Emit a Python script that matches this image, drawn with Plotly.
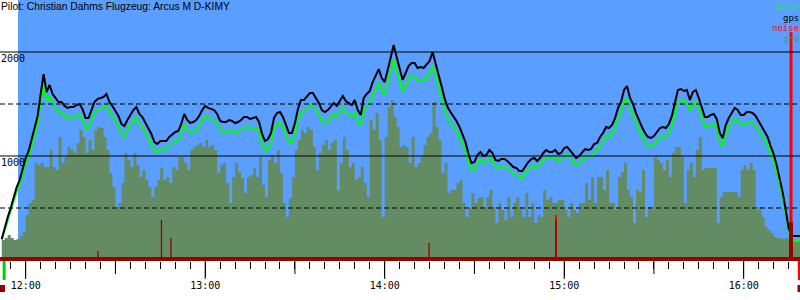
import pandas as pd
import plotly.graph_objects as go

DAY = "2024-06-01 "

# ---- data (one value per minute, starting 11:52) ----
series_start = "11:52"

gps = [202, 317, 413, 500, 606, 702, 769, 865, 981, 1048,
       1163, 1269, 1385, 1596, 1788, 1615, 1683, 1596, 1558, 1519,
       1519, 1481, 1462, 1471, 1471, 1490, 1500, 1452, 1365, 1365,
       1442, 1519, 1548, 1558, 1567, 1596, 1519, 1481, 1433, 1385,
       1308, 1288, 1346, 1394, 1442, 1471, 1404, 1375, 1317, 1269,
       1212, 1135, 1115, 1144, 1144, 1144, 1183, 1212, 1231, 1240,
       1308, 1404, 1346, 1317, 1327, 1346, 1385, 1442, 1481, 1462,
       1452, 1442, 1404, 1337, 1327, 1327, 1346, 1337, 1317, 1327,
       1346, 1375, 1375, 1356, 1365, 1375, 1327, 1212, 1144, 1163,
       1221, 1365, 1413, 1423, 1375, 1298, 1221, 1221, 1317, 1452,
       1538, 1538, 1577, 1606, 1606, 1558, 1510, 1442, 1423, 1442,
       1481, 1510, 1481, 1529, 1577, 1529, 1510, 1490, 1538, 1442,
       1394, 1558, 1596, 1625, 1711, 1779, 1836, 1750, 1711, 1827,
       1952, 2067, 1952, 1827, 1731, 1798, 1865, 1894, 1894, 1846,
       1856, 1846, 1875, 1913, 2000, 1894, 1798, 1673, 1558, 1471,
       1423, 1385, 1337, 1279, 1212, 1135, 1019, 933, 942, 1010,
       1038, 1000, 1010, 1058, 1029, 962, 952, 971, 971, 952,
       923, 894, 885, 856, 856, 904, 942, 971, 981, 952,
       981, 1029, 1058, 1038, 1038, 1058, 1019, 1029, 1077, 1087,
       1048, 1010, 981, 1000, 1029, 1067, 1058, 1067, 1115, 1125,
       1183, 1221, 1279, 1269, 1298, 1365, 1462, 1519, 1635, 1673,
       1558, 1500, 1413, 1337, 1279, 1221, 1183, 1173, 1192, 1231,
       1269, 1279, 1269, 1308, 1385, 1510, 1635, 1644, 1625, 1635,
       1538, 1615, 1635, 1558, 1471, 1375, 1375, 1394, 1404, 1356,
       1221, 1173, 1298, 1365, 1413, 1462, 1442, 1394, 1394, 1423,
       1423, 1413, 1385, 1337, 1279, 1231, 1183, 1096, 1019, 913,
       788, 654, 490, 308, 231, 231, 231, 231]

baro = [195, 290, 385, 470, 570, 665, 730, 820, 930, 990,
        1100, 1205, 1315, 1510, 1680, 1520, 1580, 1500, 1460, 1420,
        1415, 1385, 1360, 1370, 1375, 1390, 1395, 1355, 1270, 1265,
        1345, 1420, 1445, 1455, 1465, 1490, 1420, 1385, 1340, 1290,
        1215, 1195, 1250, 1300, 1345, 1370, 1310, 1280, 1225, 1180,
        1125, 1055, 1035, 1065, 1060, 1065, 1100, 1130, 1145, 1150,
        1215, 1305, 1255, 1225, 1235, 1250, 1290, 1345, 1380, 1365,
        1355, 1345, 1310, 1245, 1230, 1235, 1250, 1240, 1225, 1235,
        1250, 1275, 1280, 1260, 1270, 1275, 1230, 1120, 1050, 1070,
        1125, 1265, 1310, 1320, 1280, 1205, 1130, 1125, 1220, 1345,
        1425, 1430, 1460, 1490, 1485, 1445, 1400, 1335, 1320, 1335,
        1375, 1400, 1375, 1420, 1465, 1420, 1400, 1385, 1425, 1335,
        1290, 1440, 1480, 1510, 1590, 1655, 1710, 1630, 1590, 1700,
        1820, 1930, 1825, 1705, 1615, 1680, 1740, 1770, 1770, 1725,
        1735, 1725, 1755, 1790, 1875, 1775, 1680, 1560, 1450, 1365,
        1320, 1285, 1240, 1185, 1125, 1050, 945, 865, 870, 935,
        965, 930, 940, 985, 960, 895, 885, 905, 905, 885,
        860, 830, 820, 795, 790, 840, 875, 905, 915, 885,
        915, 960, 990, 970, 970, 990, 950, 960, 1005, 1015,
        980, 940, 915, 930, 960, 995, 985, 995, 1040, 1050,
        1105, 1140, 1195, 1185, 1215, 1275, 1365, 1415, 1525, 1560,
        1450, 1395, 1315, 1245, 1190, 1135, 1100, 1090, 1110, 1145,
        1180, 1190, 1180, 1215, 1290, 1410, 1525, 1535, 1515, 1525,
        1435, 1505, 1525, 1450, 1370, 1280, 1280, 1300, 1310, 1265,
        1135, 1090, 1210, 1275, 1320, 1365, 1345, 1300, 1300, 1325,
        1325, 1315, 1290, 1245, 1190, 1145, 1100, 1020, 950, 850,
        735, 605, 450, 275, 183, 183, 183, 183]

gnd = [192, 212, 240, 212, 192, 202, 231, 269, 433, 548,
       577, 933, 913, 933, 894, 894, 1058, 894, 865, 1183,
       933, 990, 1087, 1058, 1029, 1125, 1250, 1183, 1029, 1154,
       1058, 1250, 1279, 1269, 1183, 1058, 837, 702, 510, 548,
       740, 1029, 962, 894, 1029, 913, 798, 865, 769, 702,
       606, 702, 769, 885, 769, 798, 740, 894, 865, 990,
       990, 933, 865, 1058, 1087, 1106, 1125, 1087, 1154, 1087,
       1106, 1058, 837, 913, 933, 740, 548, 798, 933, 846,
       788, 644, 798, 817, 885, 798, 990, 721, 606, 962,
       1010, 933, 1058, 837, 548, 413, 596, 798, 1058, 1154,
       1250, 1221, 1279, 1250, 1087, 865, 1029, 1106, 1154, 1058,
       1125, 1154, 673, 933, 1183, 1058, 894, 933, 769, 798,
       894, 740, 606, 1346, 1250, 1413, 1154, 413, 1183, 1471,
       1538, 1375, 1279, 1087, 1106, 1087, 933, 1183, 894, 933,
       990, 1106, 1183, 1221, 1519, 1279, 1154, 837, 933, 644,
       673, 673, 740, 769, 548, 413, 500, 644, 548, 596,
       606, 510, 606, 673, 510, 356, 548, 481, 385, 606,
       413, 548, 606, 510, 413, 644, 413, 548, 356, 433,
       413, 673, 577, 606, 548, 548, 577, 577, 481, 413,
       548, 481, 452, 548, 548, 740, 577, 798, 548, 798,
       798, 673, 865, 548, 548, 481, 798, 846, 933, 673,
       606, 356, 673, 654, 865, 413, 510, 481, 990, 962,
       933, 865, 962, 798, 1029, 1087, 1087, 990, 548, 865,
       933, 798, 1058, 1183, 865, 885, 885, 885, 885, 356,
       606, 654, 654, 654, 654, 654, 606, 865, 913, 865,
       933, 865, 481, 510, 413, 317, 288, 260, 221, 212,
       212, 202, 212, 192, 183, 183, 183, 183]

# noise (bright red) and dark-red spikes
noise_times = ["14:57:15", "16:15:49"]
noise_vals = [433, 2190]
spike_times = ["12:24:10", "12:34:11", "12:45:23", "12:48:34", "14:14:49", "14:57:15", "16:15:49"]
spike_vals = [87, 29, 385, 212, 163, 385, 360]

hour_labels = ["12:00", "13:00", "14:00", "15:00", "16:00"]
half_hours = ["12:30", "13:30", "14:30", "15:30"]
grid_solid = [1000, 2000]
grid_dashed = [500, 1500]
y_labels = [2000, 1000]

axis_start, axis_end = "11:51:25", "16:18:49"
flight_start = "11:57:26"
takeoff, landing = "11:52:48", "16:18:30"

title = "Pilot: Christian Dahms Flugzeug: Arcus M D-KIMY"
legend = [("baro", "#00FF00"), ("gps", "#000000"), ("noise", "#FF0000"), ("gnd", "#648C64")]

# ---- styling ----
BLUE = "#5A9EFF"
GND = "#648C64"
DARKRED = "#990000"
MONO = "DejaVu Sans Mono"
PLOT_H = 261

times = pd.date_range(DAY + series_start, periods=len(gps), freq="min")

fig = go.Figure()
fig.add_trace(go.Scatter(x=times, y=gnd, mode="lines", line=dict(width=0, shape="hv"),
                         fill="tozeroy", fillcolor=GND, name="gnd", hoverinfo="skip"))
fig.add_trace(go.Scatter(x=times, y=baro, mode="lines", line=dict(color="#00FF00", width=2), name="baro"))
fig.add_trace(go.Scatter(x=times, y=gps, mode="lines", line=dict(color="black", width=2), name="gps"))

for t, v, w in zip(noise_times, noise_vals, [2, 3]):
    fig.add_trace(go.Scatter(x=[DAY + t, DAY + t], y=[0, v], mode="lines",
                             line=dict(color="#FF0000", width=w), name="noise"))
for i, (t, v) in enumerate(zip(spike_times, spike_vals)):
    w = 4 if i == len(spike_times) - 1 else 1.3
    fig.add_trace(go.Scatter(x=[DAY + t, DAY + t], y=[0, v], mode="lines",
                             line=dict(color=DARKRED, width=w), showlegend=False))

shapes = []
# blue flight background
shapes.append(dict(type="rect", xref="x", yref="paper", x0=DAY + flight_start, x1=DAY + axis_end,
                   y0=0, y1=1, fillcolor=BLUE, line=dict(width=0), layer="below"))
for g in grid_solid:
    shapes.append(dict(type="line", xref="paper", yref="y", x0=0, x1=1, y0=g, y1=g,
                       line=dict(color="black", width=1), layer="above"))
for g in grid_dashed:
    shapes.append(dict(type="line", xref="paper", yref="y", x0=0, x1=1, y0=g, y1=g,
                       line=dict(color="black", width=1, dash="5px,3px"), layer="above"))
# bottom dark-red band
shapes.append(dict(type="rect", xref="paper", yref="y", x0=0, x1=1, y0=-9.6, y1=28.8,
                   fillcolor=DARKRED, line=dict(width=0), layer="above"))
# half-hour ticks and full-length hour ticks
for h in half_hours:
    shapes.append(dict(type="line", xref="x", yref="paper", x0=DAY + h, x1=DAY + h,
                       y0=0, y1=-13 / PLOT_H, line=dict(color="black", width=1)))
for h in hour_labels:
    shapes.append(dict(type="line", xref="x", yref="paper", x0=DAY + h, x1=DAY + h,
                       y0=0, y1=-18 / PLOT_H, line=dict(color="black", width=1)))
# takeoff / landing markers
shapes.append(dict(type="line", xref="x", yref="paper", x0=DAY + takeoff, x1=DAY + takeoff,
                   y0=0, y1=-19 / PLOT_H, line=dict(color="#00D000", width=3)))
shapes.append(dict(type="line", xref="x", yref="paper", x0=DAY + landing, x1=DAY + landing,
                   y0=0, y1=-19 / PLOT_H, line=dict(color="#FF0000", width=2.5)))
shapes.append(dict(type="rect", xref="paper", yref="paper", x0=0, x1=5 / 800,
                   y0=-24 / PLOT_H, y1=-31 / PLOT_H, fillcolor=DARKRED, line=dict(width=0)))
shapes.append(dict(type="rect", xref="paper", yref="paper", x0=797.5 / 800, x1=1,
                   y0=-24 / PLOT_H, y1=-31 / PLOT_H, fillcolor=DARKRED, line=dict(width=0)))

annotations = [dict(text=title, x=0, y=1, xref="paper", yref="paper", xanchor="left", yanchor="top",
                    showarrow=False, font=dict(family="Liberation Sans", size=10.3, color="black"),
                    borderpad=0)]
for yl in y_labels:
    annotations.append(dict(text=str(yl), x=0, y=yl, xref="paper", yref="y", xanchor="left",
                            yanchor="top", showarrow=False, borderpad=0,
                            font=dict(family=MONO, size=10, color="black")))
for i, (name, col) in enumerate(legend):
    annotations.append(dict(text=name, x=1, y=1 - (7 + 10.5 * i) / PLOT_H, xref="paper", yref="paper",
                            xanchor="right", yanchor="middle", showarrow=False, borderpad=0,
                            font=dict(family=MONO, size=9, color=col)))

fig.update_layout(
    width=800, height=300, margin=dict(l=0, r=0, t=0, b=300 - PLOT_H),
    paper_bgcolor="white", plot_bgcolor="white", showlegend=False,
    shapes=shapes, annotations=annotations,
    xaxis=dict(type="date", range=[DAY + axis_start, DAY + axis_end], showgrid=False,
               zeroline=False, showline=False,
               tickmode="array", tickvals=[DAY + h for h in hour_labels], ticktext=hour_labels,
               ticks="outside", ticklen=15, tickwidth=1, tickcolor="black",
               tickfont=dict(family=MONO, size=10, color="black"),
               minor=dict(dtick=5 * 60 * 1000, tick0=DAY + "12:00", ticks="outside",
                          ticklen=7, tickwidth=1, tickcolor="black", showgrid=False)),
    yaxis=dict(range=[-9.6, 2500], showgrid=False, zeroline=False, showticklabels=False,
               ticks="", showline=False),
)

fig.write_html("out.html")
